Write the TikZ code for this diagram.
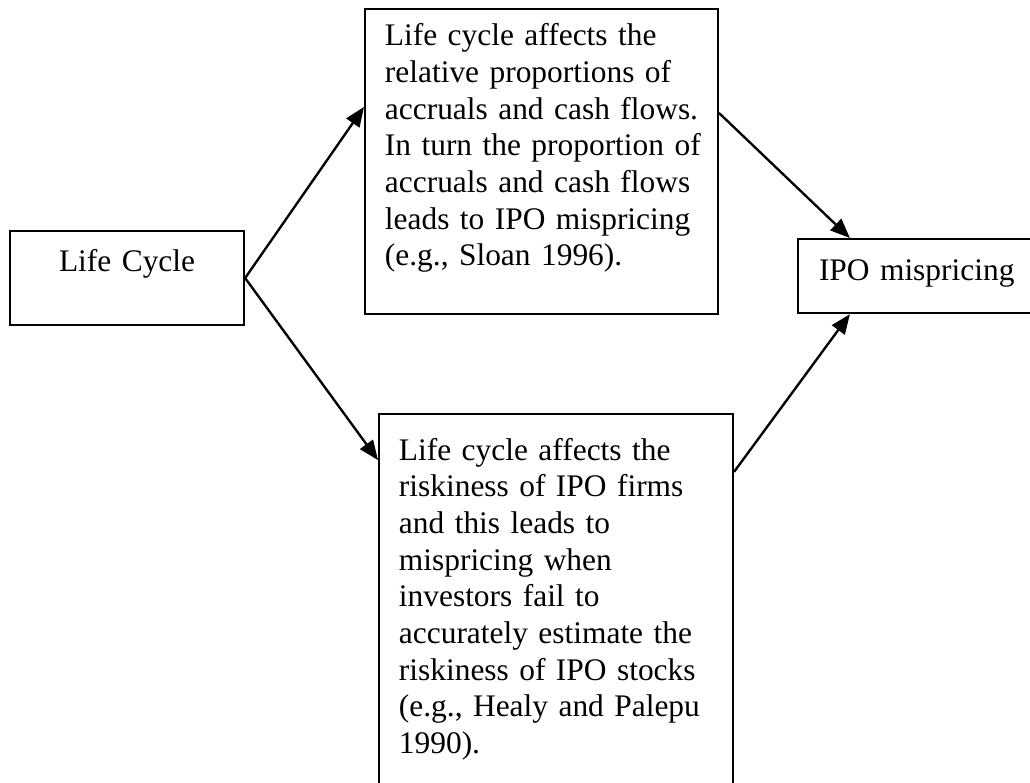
\documentclass[tikz,border=0pt]{standalone}
\usepackage{fontspec}
\setmainfont{Liberation Serif}
\usetikzlibrary{arrows.meta}

\begin{document}
\begin{tikzpicture}[x=0.382pt,y=-0.382pt,
    box/.style={draw,line width=0.8pt,rectangle,anchor=north west,inner ysep=0pt,align=left,font=\fontsize{12}{14}\selectfont},
    link/.style={line width=0.9pt,-{Triangle[length=7.5pt,width=6pt]}}]
  \useasboundingbox (0,0) rectangle (1030,782);
  \clip (0,0) rectangle (1030,782);
  \node[box,inner xsep=0pt,text width=89.4pt,align=center,text height=15.3pt,text depth=20.6pt] (life) at (9,230) {Life Cycle};
  \node[box,inner xsep=7.6pt,text width=119.6pt,text height=14.1pt,text depth=102.4pt] (accr) at (364,8) {\mbox{Life cycle affects the}\\ \mbox{relative proportions of}\\ \mbox{accruals and cash flows.}\\ \mbox{In turn the proportion of}\\ \mbox{accruals and cash flows}\\ \mbox{leads to IPO mispricing}\\ \mbox{(e.g., Sloan 1996).}};
  \node[box,inner xsep=7.6pt,text width=120pt,text height=17.6pt,text depth=130.2pt] (risk) at (378,413) {\mbox{Life cycle affects the}\\ \mbox{riskiness of IPO firms}\\ \mbox{and this leads to}\\ \mbox{mispricing when}\\ \mbox{investors fail to}\\ \mbox{accurately estimate the}\\ \mbox{riskiness of IPO stocks}\\ \mbox{(e.g., Healy and Palepu}\\ \mbox{1990).}};
  \node[box,inner xsep=8pt,text width=85.2pt,text height=16pt,text depth=12.3pt] (ipo) at (797,238) {IPO mispricing};
  \draw[link] (life.east) -- ([yshift=-37.8pt]accr.north west);
  \draw[link] (life.east) -- ([yshift=-18pt]risk.north west);
  \draw[link] ([yshift=-40.1pt]accr.north east) -- ([xshift=20.2pt]ipo.north west);
  \draw[link] ([yshift=-22.5pt]risk.north east) -- ([xshift=20.2pt]ipo.south west);
\end{tikzpicture}
\end{document}
